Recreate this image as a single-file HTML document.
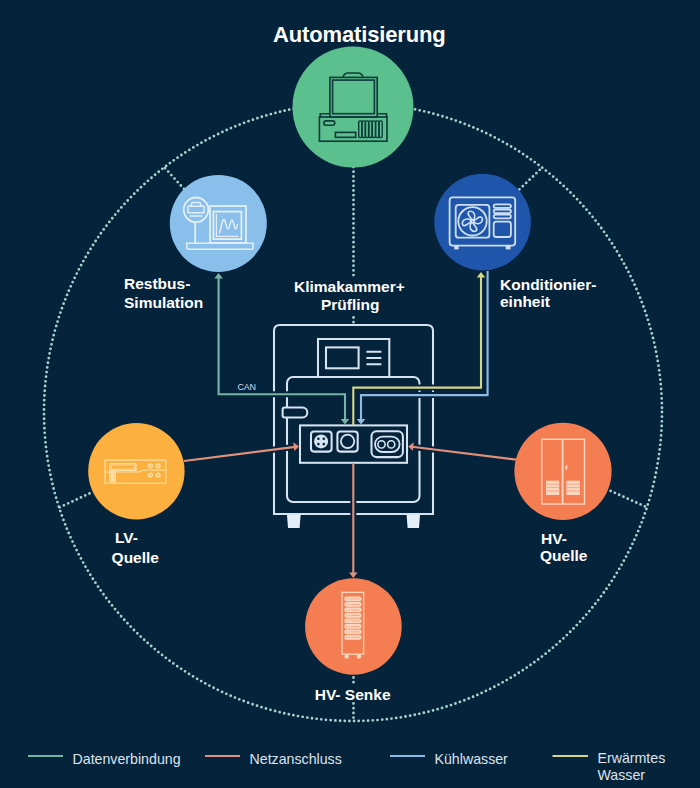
<!DOCTYPE html>
<html><head><meta charset="utf-8">
<style>
html,body{margin:0;padding:0;background:#06233c;width:700px;height:788px;overflow:hidden}
svg{display:block}
text{font-family:"Liberation Sans",sans-serif}
.lb{font-weight:bold;font-size:15.5px;fill:#ffffff}
.lg{font-size:14.2px;fill:#dbe4ec}
</style></head><body>
<svg width="700" height="788" viewBox="0 0 700 788">
<rect width="700" height="788" fill="#06233c"/>

<!-- dotted circle and radial lines -->
<g fill="none" stroke="#a6d3cc" stroke-width="2.8" stroke-linecap="round" stroke-dasharray="0 4.7">
<circle cx="353" cy="412" r="309"/>
<line x1="353.5" y1="167" x2="353.5" y2="277"/>
<line x1="353.5" y1="317.5" x2="353.5" y2="324"/>
<line x1="184" y1="189" x2="164" y2="167"/>
<line x1="519.4" y1="189.4" x2="542.1" y2="167.7"/>
<line x1="89.5" y1="493.5" x2="59" y2="507.6"/>
<line x1="610.6" y1="490.9" x2="647.1" y2="507.4"/>
<line x1="353.5" y1="677.5" x2="353.5" y2="686"/>
<line x1="353.5" y1="703.5" x2="353.5" y2="721"/>
</g>

<!-- Machine -->
<g fill="none" stroke="#d6e4f2" stroke-width="2.05">
<path d="M274 514 V331 Q274 325 280 325 H427 Q433 325 433 331 V514 Z"/>
<rect x="287" y="377" width="132.5" height="125" rx="6"/>
<path d="M318 377 V339 H389.3 V377"/>
<rect x="326" y="347.4" width="32.6" height="20.9"/>
<path d="M366.4 351.7 H381.4 M366.4 357.9 H381.4 M366.4 364.3 H381.4"/>
<path d="M284.6 407.5 H302.4 A4.95 4.95 0 0 1 302.4 417.4 H284.6 Q282.6 417.4 282.6 415.4 V409.5 Q282.6 407.5 284.6 407.5 Z" fill="#06233c"/>
<rect x="300" y="425.4" width="107" height="37.4" fill="#06233c"/>
<rect x="311" y="431.4" width="20.6" height="20.2" rx="3"/>
<rect x="337.4" y="431.4" width="20.3" height="20.2" rx="3"/>
<circle cx="347.6" cy="441.3" r="6.7" stroke-width="1.8"/>
<rect x="371.5" y="431.2" width="31.4" height="25.9" rx="5"/>
<rect x="375" y="436.6" width="24.6" height="15.4" rx="7.7" stroke-width="1.8"/>
<circle cx="381.5" cy="444.4" r="3.6" stroke-width="1.6"/>
<circle cx="391.2" cy="444.4" r="3.6" stroke-width="1.6"/>
</g>
<circle cx="321.1" cy="441.4" r="7" fill="#d6e4f2"/>
<g fill="#06233c"><circle cx="318.4" cy="438.7" r="1.3"/><circle cx="323.8" cy="438.7" r="1.3"/><circle cx="318.4" cy="444.1" r="1.3"/><circle cx="323.8" cy="444.1" r="1.3"/></g>
<g fill="#e6eef7">
<path d="M287 515 H300.6 L299.6 528 H288 Z"/>
<path d="M406.6 515 H420 L419 528 H407.6 Z"/>
</g>

<!-- halos -->
<g fill="none" stroke="#06233c" stroke-width="6">
<path d="M218.6 276 V394.3 H345 V420"/>
<path d="M353.3 424 V387.6 H481 V276"/>
<path d="M487.6 272 V395.1 H361 V420"/>
<path d="M184 461 L296 446.8"/>
<path d="M516 459.6 L411 446.7"/>
<path d="M353.3 464 V574"/>
</g>
<!-- colored lines -->
<g fill="none" stroke-width="2.1">
<path d="M218.6 278 V394.3 H345 V420" stroke="#78b4a6"/>
<path d="M353.3 425 V387.6 H481 V277" stroke="#d4d688"/>
<path d="M487.6 271 V395.1 H361 V420" stroke="#8fbae2"/>
<path d="M184 461 L295 446.9" stroke="#e3907a"/>
<path d="M516 459.6 L412 446.8" stroke="#e3907a"/>
<path d="M353.3 463 V573" stroke="#e3907a"/>
</g>
<g>
<path d="M214.3 278.5 L218.6 273 L222.9 278.5 Z" fill="#78b4a6"/>
<path d="M340.7 419 L345 424.5 L349.3 419 Z" fill="#78b4a6"/>
<path d="M476.7 277.5 L481 272 L485.3 277.5 Z" fill="#d4d688"/>
<path d="M356.7 419 L361 424.5 L365.3 419 Z" fill="#8fbae2"/>
<path d="M293.3 442.2 L299 446.5 L294.4 450.9 Z" fill="#e3907a"/>
<path d="M413.8 442.2 L408.3 446.4 L412.9 450.8 Z" fill="#e3907a"/>
<path d="M349 572.5 L353.3 578 L357.6 572.5 Z" fill="#e3907a"/>
</g>

<!-- circles -->
<circle cx="353" cy="107" r="60.5" fill="#5cbf8e"/>
<circle cx="218.3" cy="223.4" r="48.5" fill="#89bfea"/>
<circle cx="482.6" cy="222.1" r="48.3" fill="#1f55aa"/>
<circle cx="136.4" cy="471.2" r="48.2" fill="#fbb040"/>
<circle cx="563" cy="471.3" r="48.6" fill="#f47e52"/>
<circle cx="353.4" cy="626.5" r="48.3" fill="#f47e52"/>

<!-- Automatisierung icon -->
<g fill="none" stroke="#0e3c3a" stroke-width="1.65">
<rect x="329.9" y="77.4" width="47.3" height="39.6"/>
<rect x="332.6" y="80.1" width="41.8" height="33.6"/>
<path d="M343 77.4 Q343.8 73 348.5 73 H357.5 Q362.2 73 363 77.4"/>
<path d="M329.9 113.7 H320.3 V117 M377.2 113.7 H386.5 V117"/>
<rect x="319.4" y="117" width="67.6" height="24.2"/>
<rect x="323.8" y="120.8" width="11" height="4.4" rx="2.2"/>
<rect x="335.4" y="132.4" width="20.3" height="4.9"/>
<g stroke-width="1.4">
<rect x="358.7" y="120.9" width="3.1" height="16.6" rx="1.2"/>
<rect x="362.1" y="120.9" width="3.1" height="16.6" rx="1.2"/>
<rect x="365.5" y="120.9" width="3.1" height="16.6" rx="1.2"/>
<rect x="368.9" y="120.9" width="3.1" height="16.6" rx="1.2"/>
<rect x="372.3" y="120.9" width="3.1" height="16.6" rx="1.2"/>
<rect x="375.7" y="120.9" width="3.1" height="16.6" rx="1.2"/>
<rect x="379.1" y="120.9" width="3.1" height="16.6" rx="1.2"/>
</g>
</g>

<!-- Restbus icon -->
<g fill="none" stroke="#e3effa" stroke-width="1.8">
<circle cx="196" cy="209.8" r="12.3"/>
<path d="M195.2 222.1 V243"/>
<rect x="210" y="206" width="36" height="37"/>
<rect x="213.4" y="211.6" width="28" height="27.5"/>
<path d="M216.4 214 V236.4 H238.6" stroke-width="1.2"/>
<path d="M186.8 243.2 H253 V247.6 Q253 249.3 251 249.3 H188.8 Q186.8 249.3 186.8 247.6 Z" stroke-width="1.6"/>
<path d="M219.5 233.5 C221 227 222.5 219 224 219.5 C225.5 220 226.5 229 228 229 C229.5 229 230.5 220 232 220 C233.5 220 234.5 229 235.6 229 C236.6 229 237.2 226 237.5 224" stroke-width="1.5"/>
<path d="M190.5 206 L192.3 202.6 H199.7 L201.5 206 M188 206.2 H204 V212.8 H188 Z M189.5 216 H202.5" stroke-width="1.5"/>
</g>

<!-- Konditionier icon -->
<g fill="none" stroke="#cfe0f6" stroke-width="1.8">
<rect x="449.6" y="197.4" width="65.6" height="48.2" rx="3"/>
<rect x="455.7" y="204.9" width="33.7" height="32.8" rx="3"/>
<circle cx="472.5" cy="221.3" r="14.2"/>
<circle cx="472.3" cy="221.2" r="1.7" stroke-width="1.3"/>
<rect x="493.7" y="204.3" width="17.2" height="3.6" rx="1.8"/>
<rect x="493.7" y="209.5" width="17.2" height="3.6" rx="1.8"/>
<rect x="493.7" y="214.7" width="17.2" height="3.6" rx="1.8"/>
<rect x="493.7" y="221.6" width="17.2" height="15.4" rx="2.5"/>
<path d="M473.75 220.55 C475.73 220.49 477.98 216.67 480.67 216.97 C482.96 217.26 482.95 220.62 481.22 222.25 C478.98 224.27 475.72 223.77 473.67 222.19 Z M473.15 222.65 C473.21 224.63 477.03 226.88 476.73 229.57 C476.44 231.86 473.08 231.85 471.45 230.12 C469.43 227.88 469.93 224.62 471.51 222.57 Z M471.05 222.05 C469.07 222.11 466.82 225.93 464.13 225.63 C461.84 225.34 461.85 221.98 463.58 220.35 C465.82 218.33 469.08 218.83 471.13 220.41 Z M471.65 219.95 C471.59 217.97 467.77 215.72 468.07 213.03 C468.36 210.74 471.72 210.75 473.35 212.48 C475.37 214.72 474.87 217.98 473.29 220.03 Z" stroke-width="1.7"/>
</g>
<g fill="#cfe0f6">
<rect x="454.3" y="245.6" width="4.3" height="3.8"/>
<rect x="505.7" y="245.6" width="4.8" height="3.8"/>
</g>

<!-- LV icon -->
<g fill="none" stroke="#fde2a8" stroke-width="1.2">
<rect x="105.1" y="460.1" width="60.7" height="23.2"/>
<rect x="109.8" y="463.7" width="26.2" height="6.7"/>
<rect x="111.3" y="465" width="23.2" height="4.1" stroke-width="0.8"/>
<path d="M105.1 472 H138 Q140.5 472 142 470.8 Q143.5 470 146 470 H165.8"/>
<rect x="109.8" y="472" width="5.6" height="9.7"/>
<circle cx="150.4" cy="465.8" r="2"/><circle cx="158.1" cy="465.8" r="2"/>
<circle cx="150.4" cy="475.1" r="2"/><circle cx="158.1" cy="475.1" r="2"/>
</g>
<g fill="#fde2a8"><rect x="110.6" y="473" width="4" height="8"/><circle cx="150.4" cy="465.8" r="0.8"/><circle cx="158.1" cy="465.8" r="0.8"/><circle cx="150.4" cy="475.1" r="0.8"/><circle cx="158.1" cy="475.1" r="0.8"/></g>

<!-- HV-Quelle icon -->
<g fill="none" stroke="#fcd7c0" stroke-width="1.4">
<rect x="541.7" y="439.3" width="42.8" height="64.7"/>
<path d="M562.6 439.3 V504" stroke-width="1.8"/>
</g>
<g fill="#fcd7c0">
<rect x="546" y="480.7" width="13.3" height="14.3"/>
<rect x="566.4" y="480.7" width="13.4" height="14.3"/>
<ellipse cx="566.4" cy="467.4" rx="1.1" ry="2.3"/>
</g>
<path d="M546.5 484.2 H559 M546.5 487.6 H559 M546.5 491.0 H559 M567 484.2 H579.3 M567 487.6 H579.3 M567 491.0 H579.3 " stroke="#f3a17f" stroke-width="0.9" fill="none"/>

<!-- HV-Senke icon -->
<g fill="none" stroke="#fcd7c0" stroke-width="1.3">
<rect x="342" y="592.4" width="21.6" height="61.8"/>
</g>
<g fill="#fcd7c0"><rect x="344.4" y="596.6" width="17" height="4.6" rx="1.6"/><rect x="344.4" y="602.1" width="17" height="4.6" rx="1.6"/><rect x="344.4" y="607.6" width="17" height="4.6" rx="1.6"/><rect x="344.4" y="613.1" width="17" height="4.6" rx="1.6"/><rect x="344.4" y="618.6" width="17" height="4.6" rx="1.6"/><rect x="344.4" y="624.1" width="17" height="4.6" rx="1.6"/><rect x="344.4" y="629.6" width="17" height="4.6" rx="1.6"/><rect x="344.4" y="635.1" width="17" height="4.6" rx="1.6"/><circle cx="346.7" cy="656.5" r="2.2"/><circle cx="359" cy="656.5" r="2.2"/></g>
<path d="M346.2 598.9 h1.2 M348.6 598.9 h1.2 M351 598.9 h8.5 M346.2 604.4 h1.2 M348.6 604.4 h1.2 M351 604.4 h8.5 M346.2 609.9 h1.2 M348.6 609.9 h1.2 M351 609.9 h8.5 M346.2 615.4 h1.2 M348.6 615.4 h1.2 M351 615.4 h8.5 M346.2 620.9 h1.2 M348.6 620.9 h1.2 M351 620.9 h8.5 M346.2 626.4 h1.2 M348.6 626.4 h1.2 M351 626.4 h8.5 M346.2 631.9 h1.2 M348.6 631.9 h1.2 M351 631.9 h8.5 M346.2 637.4 h1.2 M348.6 637.4 h1.2 M351 637.4 h8.5 " stroke="#f3a17f" stroke-width="0.9" fill="none"/>

<!-- labels -->
<text x="273" y="42" font-weight="bold" font-size="22" letter-spacing="-0.15" fill="#fff">Automatisierung</text>
<text class="lb" x="124" y="289.4">Restbus-</text>
<text class="lb" x="124" y="308">Simulation</text>
<text class="lb" x="294" y="292.4">Klimakammer+</text>
<text class="lb" x="321" y="309.5">Prüfling</text>
<text class="lb" x="500" y="290">Konditionier-</text>
<text class="lb" x="500" y="307.4">einheit</text>
<text class="lb" x="115" y="543.4">LV-</text>
<text class="lb" x="111.6" y="562.5">Quelle</text>
<text class="lb" x="541" y="543.7">HV-</text>
<text class="lb" x="540" y="560.9">Quelle</text>
<text class="lb" x="314.7" y="699.8">HV- Senke</text>
<text x="237.5" y="389.6" font-size="9" letter-spacing="-0.2" fill="#d5dde6">CAN</text>

<!-- legend -->
<g stroke-width="2.2">
<line x1="28" y1="756" x2="63" y2="756" stroke="#78b4a6"/>
<line x1="205" y1="756" x2="240" y2="756" stroke="#e3907a"/>
<line x1="390" y1="756" x2="425" y2="756" stroke="#8fbae2"/>
<line x1="552.5" y1="756" x2="588" y2="756" stroke="#d4d688"/>
</g>
<text class="lg" x="72.5" y="764">Datenverbindung</text>
<text class="lg" x="249.5" y="764">Netzanschluss</text>
<text class="lg" x="434.5" y="764">Kühlwasser</text>
<text class="lg" x="597.5" y="763">Erwärmtes</text>
<text class="lg" x="597.5" y="779.5">Wasser</text>
</svg>
</body></html>
